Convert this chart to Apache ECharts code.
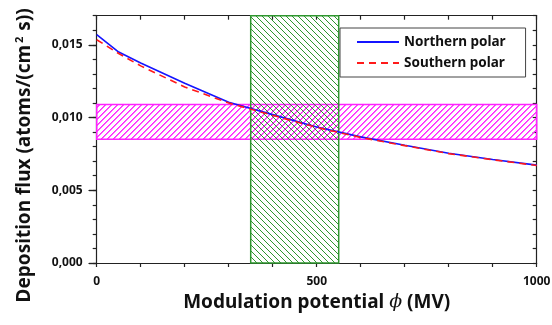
<!DOCTYPE html>
<html>
<head>
<meta charset="utf-8">
<script src="https://cdn.jsdelivr.net/npm/echarts@6.0.0/dist/echarts.min.js"></script>
<style>
  html, body { margin: 0; padding: 0; background: #fff; }
  #chart { width: 552px; height: 325px; }
</style>
</head>
<body>
<div id="chart"></div>
<script>
// modulation potential (MV)
const phi = [0, 50, 100, 200, 300, 400, 500, 600, 700, 800, 900, 1000];
// deposition flux, atoms/(cm^2 s)
const northern = [0.0157, 0.0145, 0.01375, 0.01235, 0.01105, 0.0102, 0.00935, 0.00867, 0.0081, 0.00755, 0.00712, 0.00673];
const southern = [0.01535, 0.0144, 0.01355, 0.0121, 0.011, 0.01015, 0.00932, 0.00863, 0.00807, 0.00752, 0.0071, 0.0067];
// shaded ranges: [phi from, phi to, flux from, flux to]
const fluxBand = [0, 1000, 0.0085, 0.0109];
const phiBand = [350, 550, 0, 0.017];
const yMajor = [0, 0.005, 0.010, 0.015];

const FONT = 'Noto Sans';

// hatch pattern tiles, drawn pixel by pixel
function hatch(rgb, dir, thick) {
  let n = 6;
  let c = document.createElement('canvas');
  c.width = n; c.height = n;
  let ctx = c.getContext('2d');
  let img = ctx.createImageData(n, n);
  for (let y = 0; y < n; y++) {
    for (let t = 0; t < thick; t++) {
      let x = ((dir === '/' ? (n - 1 - y) : y) + t) % n;
      let k = (y * n + x) * 4;
      img.data[k] = rgb[0]; img.data[k + 1] = rgb[1]; img.data[k + 2] = rgb[2];
      img.data[k + 3] = t === 0 ? 255 : 190;
    }
  }
  ctx.putImageData(img, 0, 0);
  return c;
}

const MAGENTA = '#ff22ff';
const GREEN = '#2f962f';
const greenTile = hatch([47, 150, 47], '\\', 1);
const magentaTile = hatch([255, 40, 255], '/', 2);

let myChart = echarts.init(document.getElementById('chart'));

const fmtY = v => v.toFixed(3).replace('.', ',');
const axisLine = {show: true, onZero: false, lineStyle: {color: '#222', width: 1.2}};

// hatched rectangle through the axes' scales
function band(name, range, color, tile) {
  return {
    name: name, type: 'custom', silent: true, z: 1,
    data: [range],
    renderItem: (params, api) => {
      let p0 = api.coord([api.value(0), api.value(2)]);
      let p1 = api.coord([api.value(1), api.value(3)]);
      return {
        type: 'rect',
        shape: {x: p0[0], y: p1[1], width: p1[0] - p0[0], height: p0[1] - p1[1]},
        style: {fill: {image: tile, repeat: 'repeat'}, stroke: color, lineWidth: 1.5}
      };
    }
  };
}

let option = {
  animation: false,
  grid: {left: 96.7, right: 15.3, top: 15.7, bottom: 62, outerBoundsMode: 'none', containLabel: false},
  legend: {
    left: 340, top: 28,
    orient: 'vertical',
    data: ['Northern polar', 'Southern polar'],
    backgroundColor: '#fff',
    borderColor: '#444', borderWidth: 1,
    padding: [7, 20, 7, 16],
    itemWidth: 42, itemHeight: 14, itemGap: 7,
    itemStyle: {opacity: 0},
    textStyle: {fontFamily: FONT, fontWeight: 'bold', fontSize: 13.5, color: '#111'}
  },
  xAxis: [{
    type: 'value', min: 0, max: 1000, interval: 100,
    name: 'Modulation potential {i|ϕ} (MV)', nameLocation: 'middle', nameGap: 24,
    nameTextStyle: {fontFamily: FONT, fontWeight: 'bold', fontSize: 19, color: '#111',
      rich: {i: {fontFamily: 'DejaVu Serif', fontStyle: 'italic', fontWeight: 'normal', fontSize: 19, color: '#111'}}},
    axisLine: axisLine,
    axisTick: {show: true, inside: false, length: 4, lineStyle: {color: '#222', width: 1.2}},
    axisLabel: {margin: 13, fontFamily: FONT, fontWeight: 'bold', fontSize: 12, color: '#111',
      formatter: v => (v % 500 === 0 ? String(v) : '')},
    splitLine: {show: false}
  }, {
    type: 'value', min: 0, max: 1000, interval: 100, position: 'top',
    axisLine: axisLine,
    axisTick: {show: true, inside: true, length: 4, lineStyle: {color: '#222', width: 1.2}},
    axisLabel: {show: false}, splitLine: {show: false}
  }],
  yAxis: [{
    type: 'value', min: 0, max: 0.017, interval: 0.001,
    name: 'Deposition flux (atoms/(cm{s|2} s))', nameLocation: 'middle', nameGap: 62,
    nameTextStyle: {fontFamily: FONT, fontWeight: 'bold', fontSize: 19, color: '#111', padding: [0, 32, 0, 0],
      rich: {s: {fontFamily: FONT, fontWeight: 'bold', fontSize: 11, color: '#111', verticalAlign: 'top', padding: [0, 1, 9, 2]}}},
    axisLine: axisLine,
    axisTick: {show: true, inside: false, length: 4, lineStyle: {color: '#222', width: 1.2}},
    axisLabel: {show: false},
    splitLine: {show: false}
  }, {
    type: 'value', min: 0, max: 0.017, position: 'left',
    axisLine: {show: false},
    axisTick: {show: true, inside: false, length: 8, customValues: yMajor, lineStyle: {color: '#222', width: 1.2}},
    axisLabel: {margin: 14, customValues: yMajor, fontFamily: FONT, fontWeight: 'bold', fontSize: 12, color: '#111', formatter: fmtY},
    splitLine: {show: false}
  }, {
    type: 'value', min: 0, max: 0.017, interval: 0.001, position: 'right',
    axisLine: axisLine,
    axisTick: {show: true, inside: true, length: 4, lineStyle: {color: '#222', width: 1.2}},
    axisLabel: {show: false}, splitLine: {show: false}
  }, {
    type: 'value', min: 0, max: 0.017, position: 'right',
    axisLine: {show: false},
    axisTick: {show: true, inside: true, length: 8, customValues: yMajor, lineStyle: {color: '#222', width: 1.2}},
    axisLabel: {show: false}, splitLine: {show: false}
  }],
  series: [
    band('fluxBand', fluxBand, MAGENTA, magentaTile),
    band('phiBand', phiBand, GREEN, greenTile),
    {
      name: 'Northern polar', type: 'line', symbol: 'none', z: 5,
      data: phi.map((x, i) => [x, northern[i]]),
      lineStyle: {color: '#1414ff', width: 1.6},
      itemStyle: {color: '#1414ff'}
    }, {
      name: 'Southern polar', type: 'line', symbol: 'none', z: 6,
      data: phi.map((x, i) => [x, southern[i]]),
      lineStyle: {color: '#ff1a1a', width: 1.6, type: [7, 5]},
      itemStyle: {color: '#ff1a1a'}
    }
  ]
};
myChart.setOption(option);
</script>
</body>
</html>
